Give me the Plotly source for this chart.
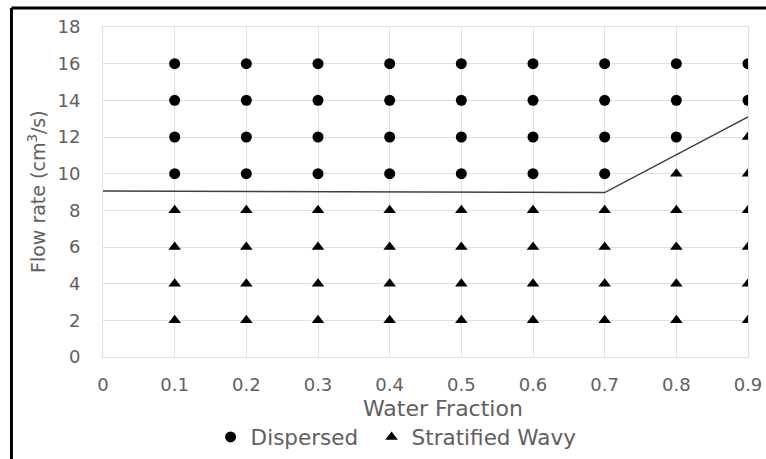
import plotly.graph_objects as go

# Data
disp_x = [0.1]*4 + [0.2]*4 + [0.3]*4 + [0.4]*4 + [0.5]*4 + [0.6]*4 + [0.7]*4 + [0.8]*3 + [0.9]*2
disp_y = [10, 12, 14, 16]*7 + [12, 14, 16] + [14, 16]
strat_x = [0.1]*4 + [0.2]*4 + [0.3]*4 + [0.4]*4 + [0.5]*4 + [0.6]*4 + [0.7]*4 + [0.8]*5 + [0.9]*6
strat_y = [2, 4, 6, 8]*7 + [2, 4, 6, 8, 10] + [2, 4, 6, 8, 10, 12]
bound_x = [0, 0.45, 0.7, 0.9]
bound_y = [9.05, 9.02, 8.97, 13.1]
x_ticks = [0, 0.1, 0.2, 0.3, 0.4, 0.5, 0.6, 0.7, 0.8, 0.9]
y_ticks = [0, 2, 4, 6, 8, 10, 12, 14, 16, 18]

FONT = "DejaVu Sans"
GRAY = "#606060"
GRID = "#e0e0e0"

fig = go.Figure()
fig.add_trace(go.Scatter(x=bound_x, y=bound_y, mode="lines",
                         line=dict(color="#404040", width=1.5), showlegend=False, cliponaxis=False))
fig.add_trace(go.Scatter(x=disp_x, y=disp_y, mode="markers", name="Dispersed", legend="legend",
                         marker=dict(symbol="circle", size=11, color="black")))
fig.add_trace(go.Scatter(x=strat_x, y=strat_y, mode="markers", name="Stratified Wavy", legend="legend2",
                         marker=dict(symbol="triangle-up", size=11, color="black")))

leg_common = dict(orientation="h", xanchor="left", yref="container", y=22/459, yanchor="middle",
                  font=dict(size=21.5, color=GRAY), itemwidth=30, bgcolor="rgba(0,0,0,0)")

fig.update_layout(
    width=766, height=459,
    margin=dict(l=103, r=18, t=27, b=102),
    paper_bgcolor="white", plot_bgcolor="white",
    font=dict(family=FONT, color=GRAY, size=18),
    xaxis=dict(range=[0, 0.9], tickvals=x_ticks, ticktext=[str(v) for v in x_ticks],
               showgrid=True, gridcolor=GRID, gridwidth=1, zeroline=False,
               showline=True, linecolor=GRID, mirror=True,
               ticks="outside", ticklen=11, tickcolor="rgba(0,0,0,0)",
               tickfont=dict(size=18, color=GRAY), automargin=False),
    yaxis=dict(range=[0, 18], tickvals=y_ticks, showgrid=True, gridcolor=GRID, gridwidth=1,
               zeroline=False, showline=True, linecolor=GRID, mirror=True,
               tickfont=dict(size=18, color=GRAY), ticks="outside", ticklen=18,
               tickcolor="rgba(0,0,0,0)", automargin=False),
    legend=dict(x=(231-20.4-103)/645, **leg_common),
    legend2=dict(x=(392-20.4-103)/645, **leg_common),
    annotations=[
        dict(text="Water Fraction", xref="paper", yref="paper", x=(443-103)/645, y=(357-409)/330,
             xanchor="center", yanchor="middle", showarrow=False, font=dict(size=22, color=GRAY)),
        dict(text="Flow rate (cm<sup>3</sup>/s)", xref="paper", yref="paper", x=(37-103)/645, y=0.5,
             xanchor="center", yanchor="middle", textangle=-90, showarrow=False,
             font=dict(size=19, color=GRAY)),
    ],
    shapes=[
        dict(type="line", xref="paper", yref="paper", x0=-0.1419, x1=1.05, y0=1.0576, y1=1.0576,
             line=dict(color="black", width=3)),
        dict(type="line", xref="paper", yref="paper", x0=-0.1419, x1=-0.1419, y0=1.0576, y1=-0.35,
             line=dict(color="black", width=3)),
    ],
)

fig.write_html("out.html")
